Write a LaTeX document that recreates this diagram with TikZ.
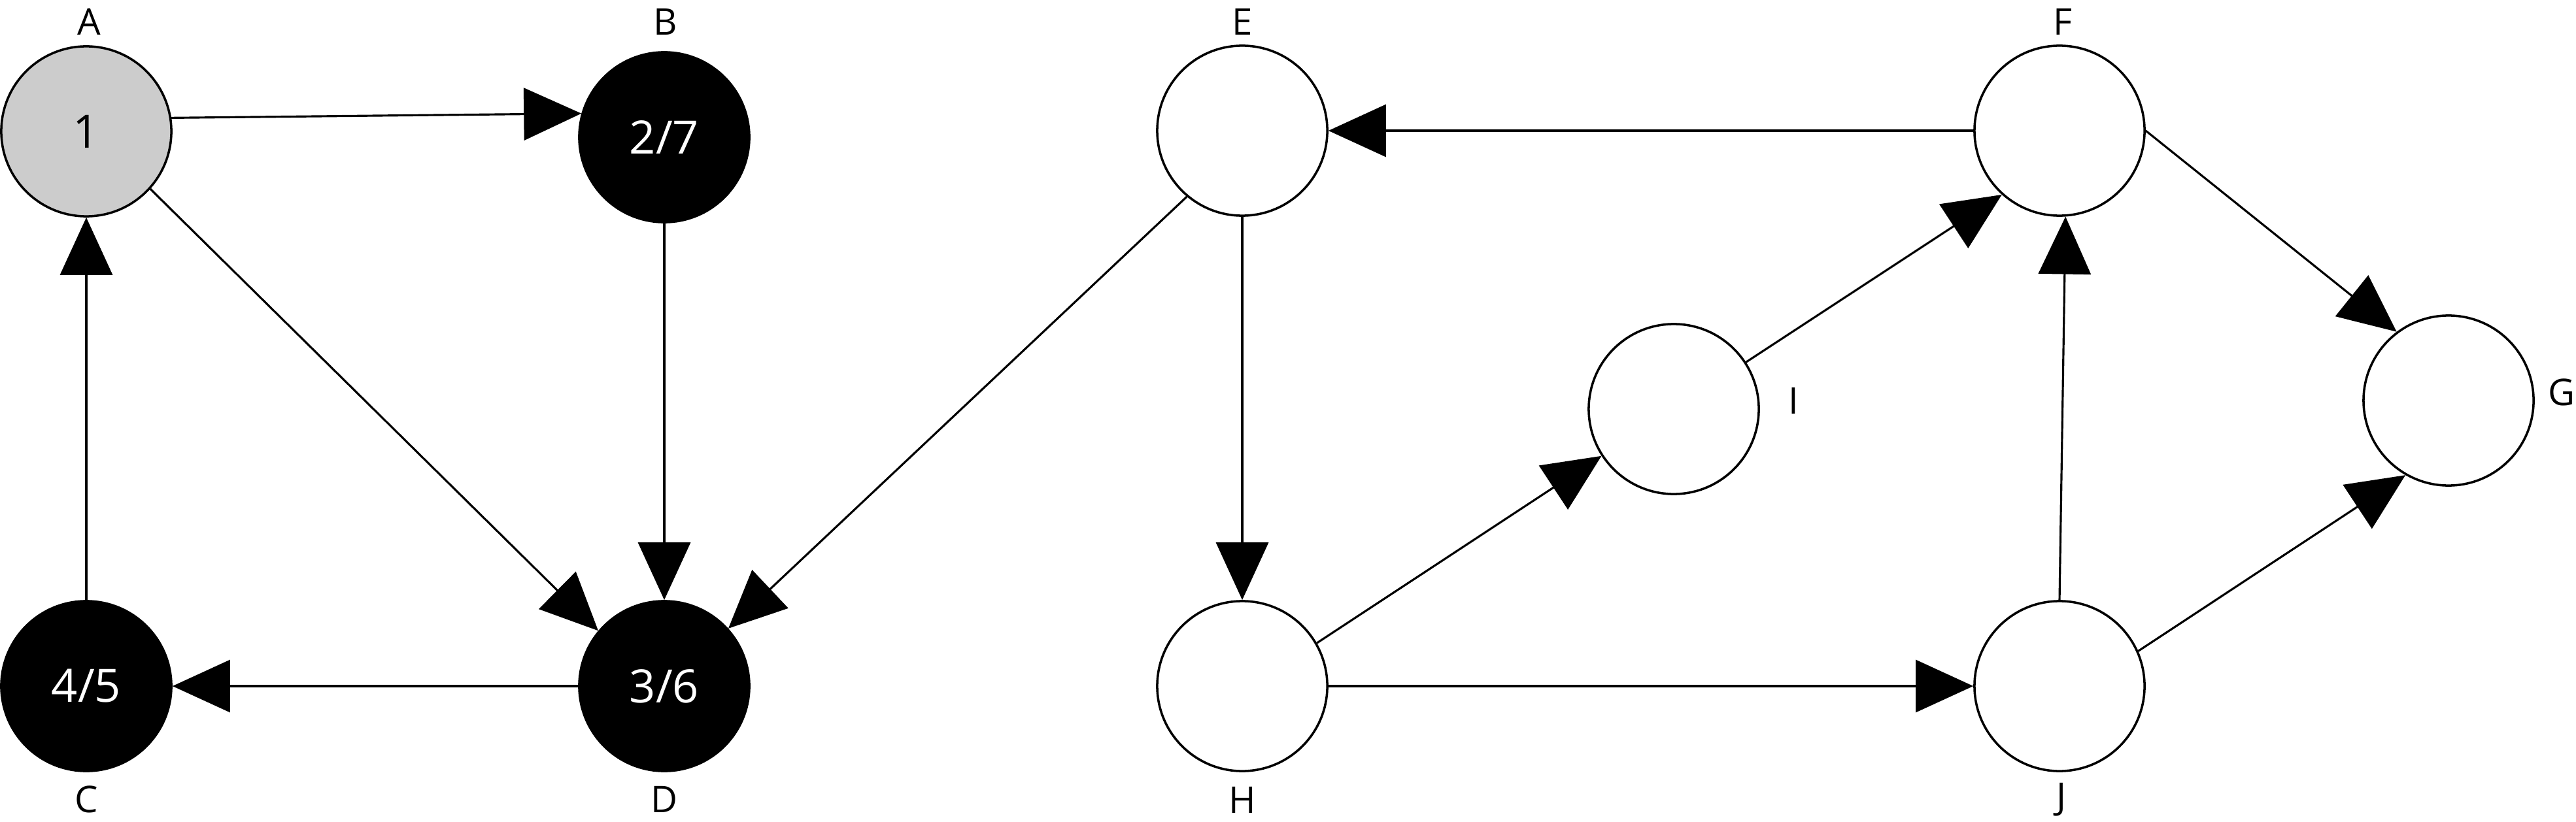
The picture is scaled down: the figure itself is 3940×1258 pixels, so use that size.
\documentclass[tikz,border=0pt]{standalone}
\usepackage{fontspec}
\setmainfont{Open Sans}
\usetikzlibrary{arrows.meta}
\begin{document}
\begin{tikzpicture}[x=0.01cm,y=-0.01cm,
  vtx/.style={circle,draw,line width=1pt,minimum size=2.6cm,inner sep=0pt,fill=white,font=\fontsize{20}{24}\selectfont},
  greyvtx/.style={vtx,fill=black!20},
  blackvtx/.style={vtx,fill=black,text=white},
  lbl/.style={inner sep=0pt,font=\fontsize{16}{19}\selectfont},
  edge/.style={line width=0.9pt,-{Triangle[length=0.88cm,width=0.8cm]}}]
\useasboundingbox (0,0) rectangle (3940,1258);
% vertices
\node[greyvtx]  (A) at (132,201)  {1};
\node[blackvtx] (B) at (1016,210) {2/7};
\node[blackvtx] (C) at (132,1050) {4/5};
\node[blackvtx] (D) at (1016,1050) {3/6};
\node[vtx] (E) at (1900,200) {};
\node[vtx] (F) at (3150,200) {};
\node[vtx] (G) at (3745,613) {};
\node[vtx] (H) at (1900,1050) {};
\node[vtx] (I) at (2560,626) {};
\node[vtx] (J) at (3150,1050) {};
% labels
\node[lbl] (lA) at (136,33) {A};
\node[lbl] (lB) at (1018,33) {B};
\node[lbl] (lC) at (132,1223) {C};
\node[lbl] (lD) at (1016,1223) {D};
\node[lbl] (lE) at (1900,33) {E};
\node[lbl] (lF) at (3155,33) {F};
\node[lbl] (lH) at (1900,1224) {H};
\node[lbl] (lJ) at (3153,1224) {J};
\node[lbl] (lI) at (2743,613) {I};
\node[lbl] (lG) at (3918,600) {G};
% edges
\draw[edge] (A.9) -- (B.164);
\draw[edge] (A.-42) -- (D.140);
\draw[edge] (B.south) -- (D.north);
\draw[edge] (C.north) -- (A.south);
\draw[edge] (D.west) -- (C.east);
\draw[edge] (E.230) -- (D.42);
\draw[edge] (F.west) -- (E.east);
\draw[edge] (E.south) -- (H.north);
\draw[edge] (H.30) -- (I.213);
\draw[edge] (I.33) -- (F.228);
\draw[edge] (H.east) -- (J.west);
\draw[edge] (J.north) -- (F.-86);
\draw[edge] (F.east) -- (G.127);
\draw[edge] (J.24) -- (G.240);
\end{tikzpicture}
\end{document}
